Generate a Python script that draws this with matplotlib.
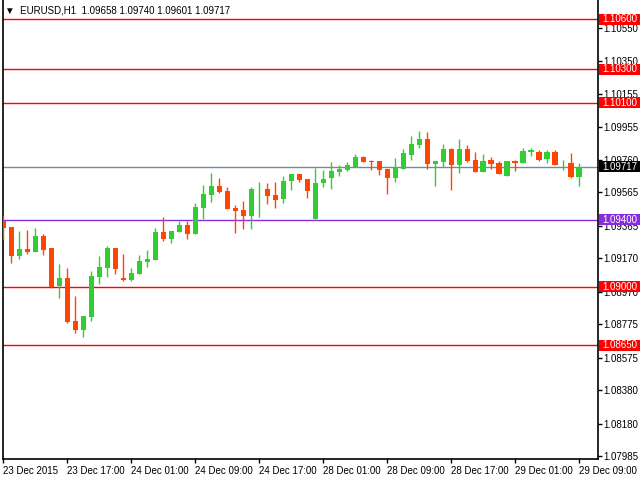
import matplotlib
matplotlib.use("Agg")
import matplotlib.pyplot as plt
import matplotlib.transforms as mtransforms
from matplotlib.patches import Rectangle
import numpy as np

plt.rcParams["font.family"] = ["Liberation Sans", "DejaVu Sans"]

# hourly EURUSD candles, 23 Dec 09:00 .. 29 Dec 09:00
opens = [1.09393, 1.09358, 1.09186, 1.09226, 1.09210, 1.09304, 1.09232, 1.09007, 1.09053, 1.08795,
         1.08743, 1.08819, 1.09059, 1.09114, 1.09232, 1.09053, 1.09042, 1.09078, 1.09150, 1.09162,
         1.09328, 1.09288, 1.09328, 1.09370, 1.09318, 1.09471, 1.09549, 1.09603, 1.09573, 1.09471,
         1.09459, 1.09423, 1.09583, 1.09585, 1.09549, 1.09525, 1.09633, 1.09675, 1.09645, 1.09405,
         1.09621, 1.09651, 1.09686, 1.09698, 1.09716, 1.09776, 1.09754, 1.09752, 1.09704, 1.09651,
         1.09704, 1.09788, 1.09848, 1.09884, 1.09734, 1.09746, 1.09824, 1.09728, 1.09824, 1.09758,
         1.09686, 1.09758, 1.09740, 1.09663, 1.09752, 1.09740, 1.09806, 1.09806, 1.09764, 1.09806,
         1.09733, 1.09740, 1.09658]
highs = [1.09429, 1.09360, 1.09334, 1.09340, 1.09352, 1.09316, 1.09234, 1.09136, 1.09112, 1.08945,
         1.08827, 1.09096, 1.09184, 1.09244, 1.09234, 1.09196, 1.09112, 1.09190, 1.09220, 1.09352,
         1.09417, 1.09336, 1.09393, 1.09393, 1.09501, 1.09609, 1.09680, 1.09651, 1.09597, 1.09489,
         1.09513, 1.09597, 1.09627, 1.09621, 1.09627, 1.09663, 1.09677, 1.09677, 1.09647, 1.09710,
         1.09698, 1.09746, 1.09728, 1.09746, 1.09794, 1.09782, 1.09758, 1.09754, 1.09706, 1.09770,
         1.09824, 1.09902, 1.09932, 1.09926, 1.09754, 1.09854, 1.09830, 1.09884, 1.09848, 1.09806,
         1.09794, 1.09776, 1.09754, 1.09754, 1.09758, 1.09830, 1.09830, 1.09818, 1.09818, 1.09818,
         1.09758, 1.09800, 1.09740]
lows = [1.09288, 1.09144, 1.09168, 1.09198, 1.09208, 1.09192, 1.08995, 1.08935, 1.08783, 1.08725,
        1.08702, 1.08797, 1.09019, 1.09060, 1.09078, 1.09036, 1.09036, 1.09077, 1.09120, 1.09161,
        1.09276, 1.09264, 1.09326, 1.09288, 1.09316, 1.09404, 1.09507, 1.09561, 1.09463, 1.09322,
        1.09346, 1.09346, 1.09417, 1.09495, 1.09471, 1.09501, 1.09579, 1.09627, 1.09531, 1.09403,
        1.09597, 1.09585, 1.09663, 1.09692, 1.09714, 1.09744, 1.09698, 1.09669, 1.09555, 1.09627,
        1.09702, 1.09758, 1.09830, 1.09704, 1.09603, 1.09716, 1.09579, 1.09680, 1.09746, 1.09684,
        1.09684, 1.09704, 1.09673, 1.09661, 1.09692, 1.09738, 1.09782, 1.09752, 1.09740, 1.09728,
        1.09698, 1.09652, 1.09601]
closes = [1.09353, 1.09186, 1.09226, 1.09210, 1.09304, 1.09222, 1.08999, 1.09053, 1.08789, 1.08743,
          1.08825, 1.09065, 1.09118, 1.09232, 1.09106, 1.09041, 1.09082, 1.09154, 1.09166, 1.09328,
          1.09288, 1.09334, 1.09370, 1.09318, 1.09477, 1.09555, 1.09603, 1.09567, 1.09465, 1.09453,
          1.09423, 1.09585, 1.09585, 1.09543, 1.09519, 1.09633, 1.09675, 1.09639, 1.09573, 1.09621,
          1.09645, 1.09692, 1.09704, 1.09728, 1.09776, 1.09746, 1.09746, 1.09698, 1.09651, 1.09710,
          1.09800, 1.09854, 1.09884, 1.09734, 1.09752, 1.09824, 1.09728, 1.09824, 1.09752, 1.09686,
          1.09752, 1.09734, 1.09675, 1.09752, 1.09740, 1.09812, 1.09818, 1.09758, 1.09806, 1.09730,
          1.09734, 1.09657, 1.09717]

time_labels = ["23 Dec 2015", "23 Dec 17:00", "24 Dec 01:00", "24 Dec 09:00", "24 Dec 17:00",
               "28 Dec 01:00", "28 Dec 09:00", "28 Dec 17:00", "29 Dec 01:00", "29 Dec 09:00"]
price_ticks = [1.10550, 1.10350, 1.10155, 1.09955, 1.09760, 1.09565, 1.09365,
               1.09170, 1.08970, 1.08775, 1.08575, 1.08380, 1.08180, 1.07985]
level_prices = [1.10600, 1.10300, 1.10100, 1.09400, 1.09000, 1.08650]
level_colors = ["#ff0000", "#ff0000", "#ff0000", "#8a2be2", "#ff0000", "#ff0000"]
last_price = 1.09717

bull = "#32cd32"
bear = "#ff4500"
fs = 7

fig = plt.figure(figsize=(6.4, 4.8), dpi=100)
ax = fig.add_axes([2.5 / 640, 21 / 480, 595 / 640, 459 / 480])

o = np.array(opens)
h = np.array(highs)
l = np.array(lows)
c = np.array(closes)
x = np.arange(len(o))
colors = [bull if cc >= oo else bear for oo, cc in zip(o, c)]

ax.vlines(x, l, h, colors=colors, linewidth=1.0, zorder=3)
body_low = np.minimum(o, c)
body_h = np.maximum(np.abs(c - o), 0.00002)
ax.bar(x, body_h, bottom=body_low, width=0.66, color=colors, linewidth=0, zorder=3)

ax.set_xlim(-0.1, 74.3)
ax.set_ylim(1.079699, 1.107155)

# horizontal levels with price tags on the right
blend = mtransforms.blended_transform_factory(ax.transAxes, ax.transData)
box_h = 11 * (1.107155 - 1.079699) / 459
for p, col in zip(level_prices, level_colors):
    ax.axhline(p, color=col, linewidth=1.0, zorder=2)
    ax.add_patch(Rectangle((1.0025, p - box_h / 2), 0.07, box_h, transform=blend,
                           facecolor=col, edgecolor="none", clip_on=False, zorder=5))
    ax.text(1.0075, p, f"{p:.5f}", transform=blend, color="white", fontsize=fs,
            va="center", ha="left", clip_on=False, zorder=6)

ax.axhline(last_price, color="#778899", linewidth=1.0, zorder=2)
ax.add_patch(Rectangle((1.0025, last_price - box_h / 2), 0.07, box_h, transform=blend,
                       facecolor="black", edgecolor="none", clip_on=False, zorder=5))
ax.text(1.0075, last_price, f"{last_price:.5f}", transform=blend, color="white", fontsize=fs,
        va="center", ha="left", clip_on=False, zorder=6)

ax.yaxis.tick_right()
ax.set_yticks(price_ticks)
ax.set_yticklabels([f"{p:.5f}" for p in price_ticks])
ax.tick_params(axis="y", length=3, width=1, pad=1.5, labelsize=fs, colors="black")

ax.set_xticks(np.arange(0, 8 * len(time_labels), 8))
ax.set_xticklabels(time_labels, ha="left")
ax.tick_params(axis="x", length=3, width=1, pad=2, labelsize=fs)

for side in ["left", "right", "bottom"]:
    ax.spines[side].set_linewidth(1.2)
    ax.spines[side].set_color("black")
ax.spines["top"].set_visible(False)

ax.text(0.004, 0.988, "▼  EURUSD,H1  1.09658 1.09740 1.09601 1.09717", transform=ax.transAxes,
        fontsize=fs, va="top", ha="left", color="black")

fig.savefig("out.png", dpi=100)
